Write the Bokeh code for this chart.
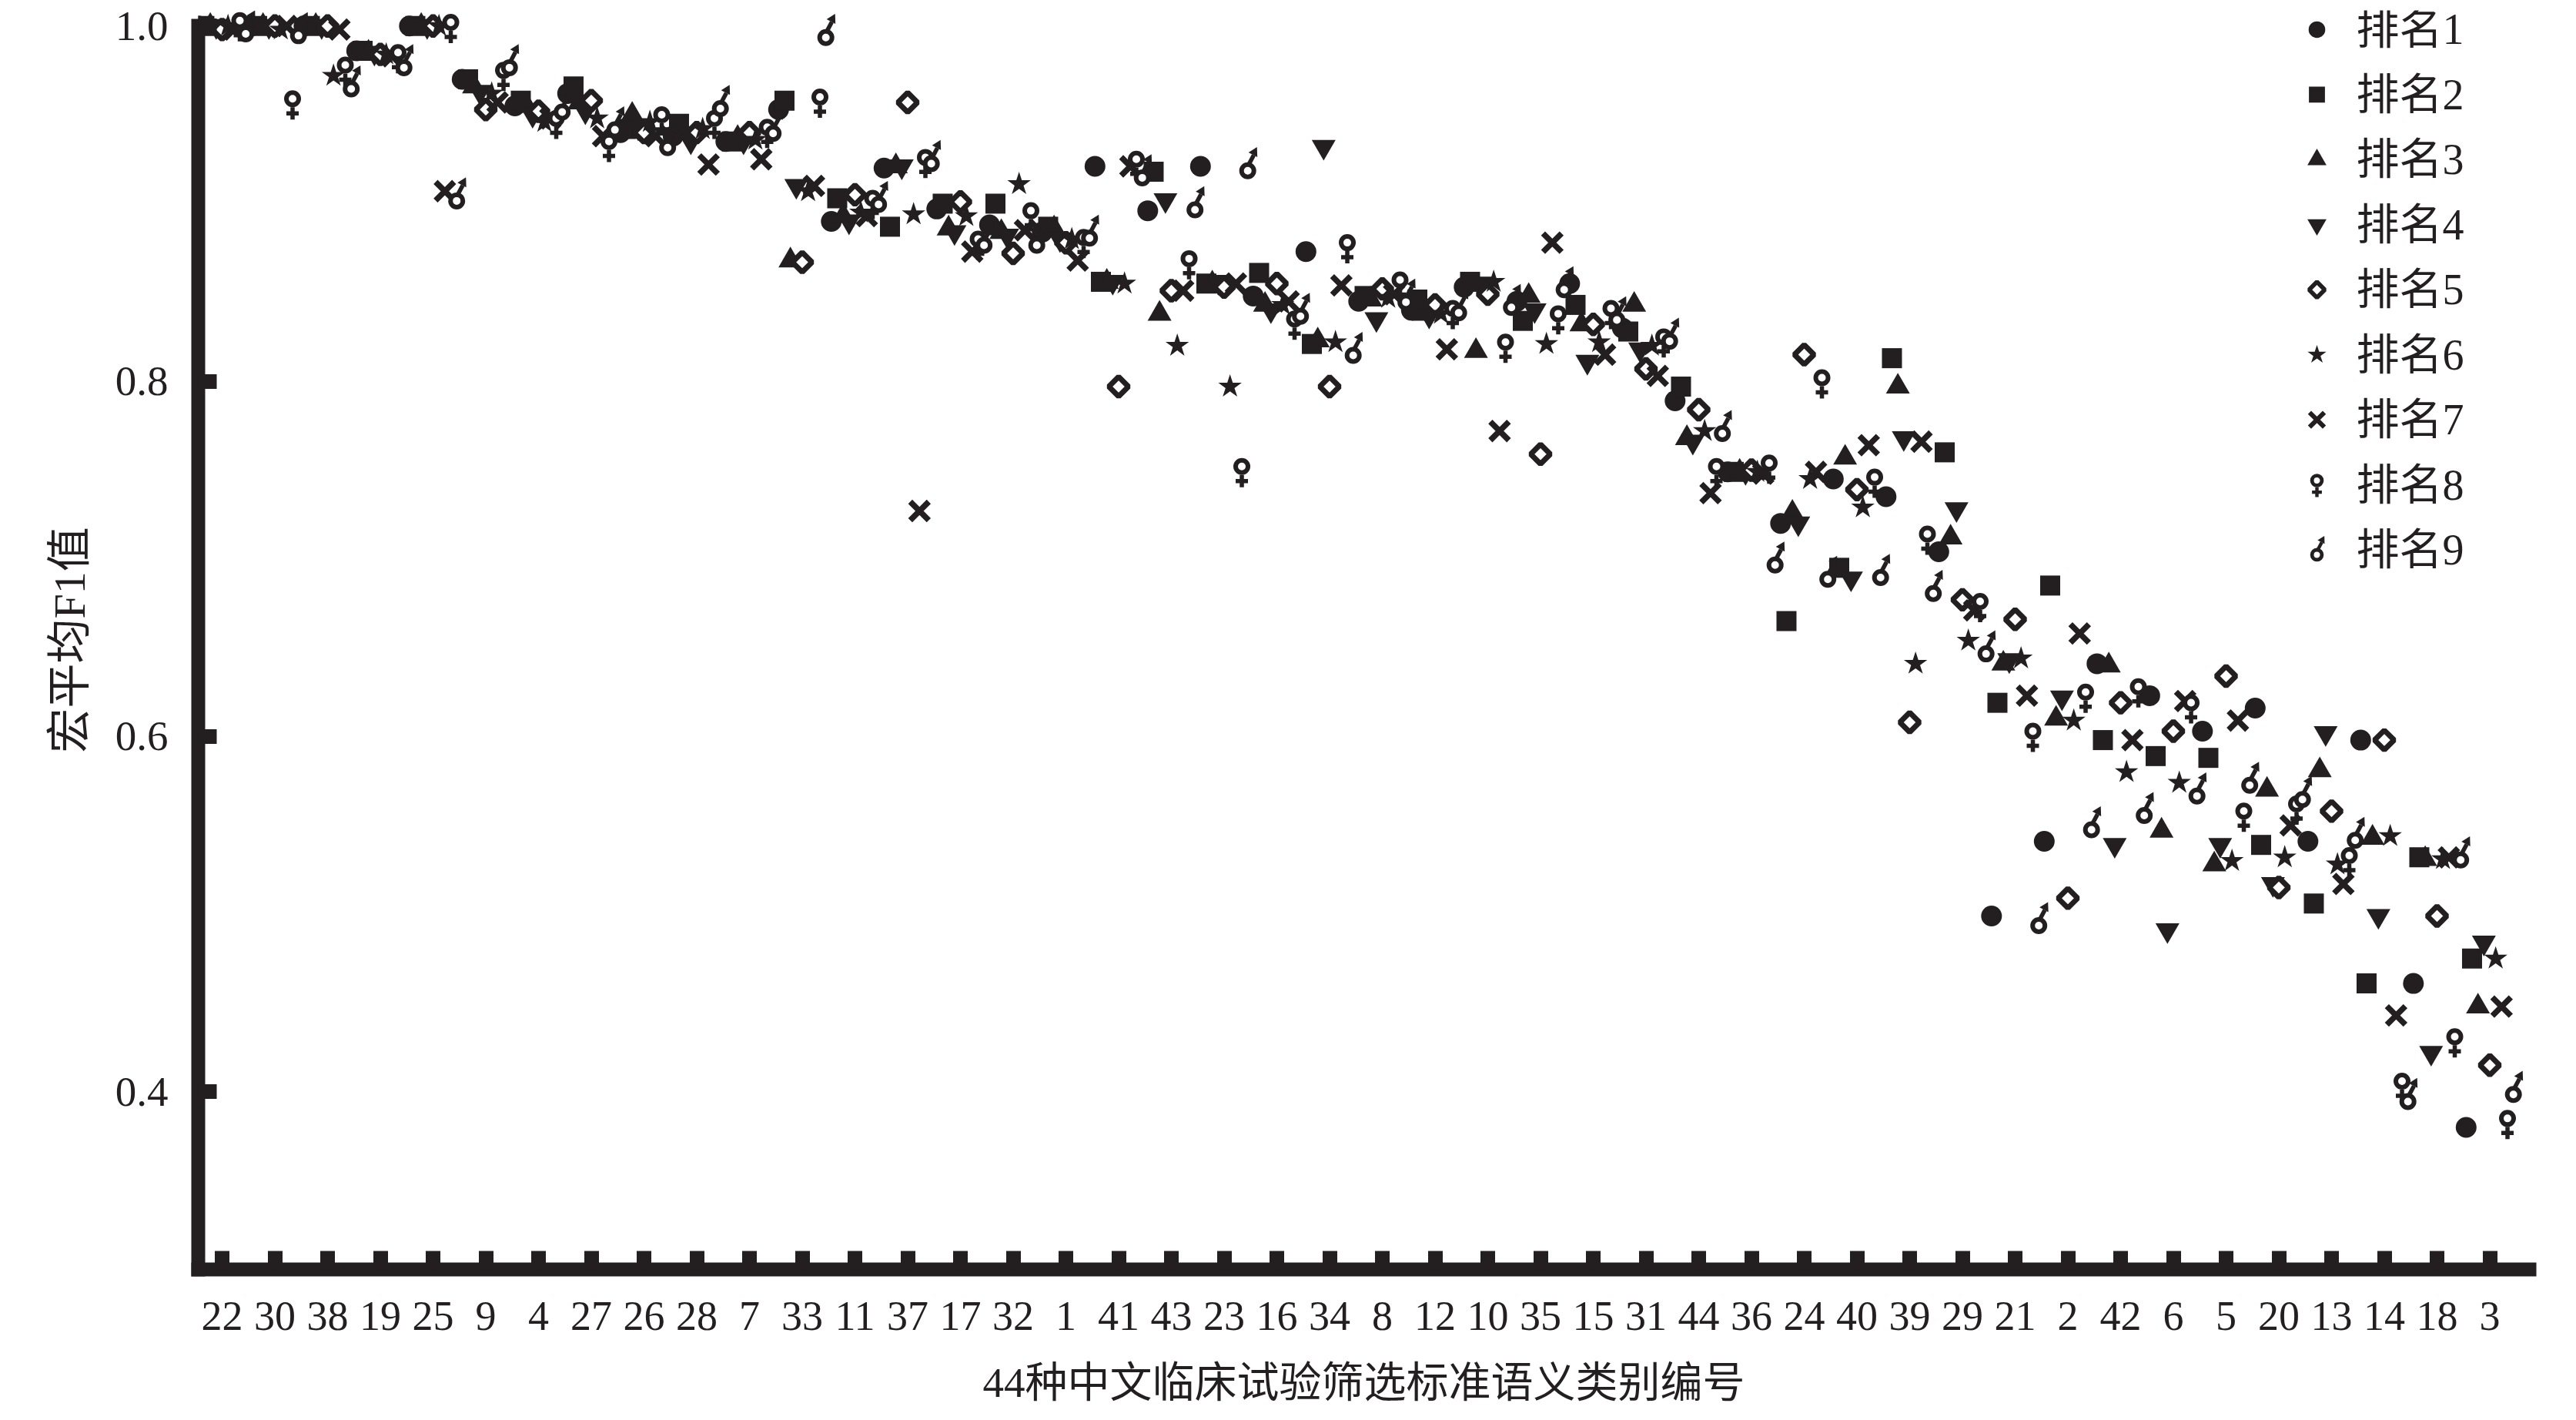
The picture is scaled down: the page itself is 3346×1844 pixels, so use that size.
import math
from bokeh.plotting import figure
from bokeh.models import FixedTicker, Range1d
from bokeh.embed import file_html
from bokeh.resources import INLINE
from bokeh.core.properties import value

# ---------------- data ----------------
categories = ["22", "30", "38", "19", "25", "9", "4", "27", "26", "28", "7", "33", "11", "37",
              "17", "32", "1", "41", "43", "23", "16", "34", "8", "12", "10", "35", "15", "31",
              "44", "36", "24", "40", "39", "29", "21", "2", "42", "6", "5", "20", "13", "14",
              "18", "3"]

rank1 = [1.0, 1.0, 1.0, 0.986, 1.0, 0.970, 0.955, 0.962, 0.940, 0.938, 0.935, 0.953, 0.890, 0.920,
         0.897, 0.888, 0.884, 0.921, 0.896, 0.921, 0.848, 0.873, 0.845, 0.840, 0.853, 0.845, 0.855,
         0.830, 0.789, 0.749, 0.720, 0.745, 0.735, 0.704, 0.499, 0.541, 0.641, 0.623, 0.603, 0.616,
         0.541, 0.598, 0.461, 0.380]
rank2 = [1.0, 1.0, 1.0, 0.986, 1.0, 0.970, 0.958, 0.966, 0.942, 0.945, 0.935, 0.958, 0.903, 0.887,
         0.900, 0.900, 0.887, 0.856, 0.918, 0.855, 0.861, 0.821, 0.848, 0.846, 0.856, 0.834, 0.843,
         0.828, 0.797, 0.749, 0.665, 0.695, 0.813, 0.760, 0.619, 0.685, 0.598, 0.589, 0.588, 0.539,
         0.506, 0.461, 0.532, 0.475]
rank3 = [1.0, 1.0, 1.0, 0.985, 1.0, 0.966, 0.955, 0.957, 0.950, 0.940, 0.937, 0.868, 0.893, 0.921,
         0.886, 0.884, 0.886, 0.856, 0.838, 0.855, 0.843, 0.823, 0.846, 0.838, 0.817, 0.848, 0.832,
         0.843, 0.768, 0.749, 0.726, 0.757, 0.797, 0.712, 0.641, 0.610, 0.640, 0.547, 0.528, 0.570,
         0.581, 0.543, 0.531, 0.448]
rank4 = [1.0, 1.0, 1.0, 0.985, 1.0, 0.963, 0.950, 0.952, 0.943, 0.935, 0.935, 0.910, 0.890, 0.921,
         0.884, 0.882, 0.880, 0.856, 0.902, 0.856, 0.840, 0.932, 0.835, 0.837, 0.855, 0.840, 0.811,
         0.818, 0.766, 0.749, 0.720, 0.689, 0.768, 0.728, 0.643, 0.622, 0.539, 0.491, 0.539, 0.517,
         0.602, 0.499, 0.422, 0.484]
rank5 = [0.998, 1.0, 1.0, 0.984, 1.0, 0.953, 0.952, 0.958, 0.940, 0.940, 0.940, 0.867, 0.905, 0.957,
         0.901, 0.872, 0.878, 0.797, 0.851, 0.853, 0.855, 0.797, 0.852, 0.843, 0.849, 0.759, 0.832,
         0.807, 0.784, 0.750, 0.815, 0.739, 0.608, 0.677, 0.666, 0.509, 0.619, 0.603, 0.634, 0.515,
         0.558, 0.598, 0.499, 0.415]
rank6 = [1.0, 0.998, 0.972, 0.984, 1.0, 0.962, 0.946, 0.948, 0.946, 0.942, 0.936, 0.907, 0.895, 0.894,
         0.893, 0.911, 0.880, 0.855, 0.820, 0.797, 0.843, 0.822, 0.847, 0.838, 0.856, 0.821, 0.822,
         0.820, 0.772, 0.749, 0.745, 0.729, 0.641, 0.654, 0.644, 0.609, 0.580, 0.574, 0.530, 0.532,
         0.528, 0.544, 0.531, 0.475]
rank7 = [0.998, 1.0, 0.998, 0.983, 0.907, 0.957, 0.948, 0.938, 0.938, 0.922, 0.925, 0.910, 0.893, 0.727,
         0.873, 0.885, 0.868, 0.921, 0.851, 0.855, 0.845, 0.854, 0.849, 0.818, 0.772, 0.878, 0.815,
         0.803, 0.737, 0.748, 0.749, 0.764, 0.766, 0.671, 0.623, 0.658, 0.598, 0.620, 0.609, 0.550,
         0.517, 0.443, 0.532, 0.448]
rank8 = [1.0, 0.956, 0.975, 0.982, 0.999, 0.972, 0.945, 0.932, 0.947, 0.945, 0.940, 0.957, 0.900, 0.923,
         0.877, 0.893, 0.878, 0.922, 0.866, 0.749, 0.832, 0.875, 0.854, 0.838, 0.819, 0.835, 0.838,
         0.822, 0.749, 0.751, 0.799, 0.743, 0.711, 0.673, 0.600, 0.622, 0.625, 0.616, 0.555, 0.559,
         0.530, 0.403, 0.428, 0.382]
rank9 = [0.999, 0.998, 0.968, 0.980, 0.905, 0.980, 0.955, 0.945, 0.935, 0.957, 0.943, 0.997, 0.903, 0.926,
         0.880, 0.880, 0.884, 0.918, 0.900, 0.922, 0.840, 0.818, 0.848, 0.842, 0.845, 0.855, 0.838,
         0.826, 0.774, 0.700, 0.692, 0.693, 0.684, 0.650, 0.497, 0.551, 0.559, 0.570, 0.576, 0.568,
         0.545, 0.398, 0.534, 0.402]

series = [rank1, rank2, rank3, rank4, rank5, rank6, rank7, rank8, rank9]
series_names = ["排名1", "排名2", "排名3", "排名4", "排名5", "排名6", "排名7", "排名8", "排名9"]
y_ticks = [0.4, 0.6, 0.8, 1.0]
x_title = "44种中文临床试验筛选标准语义类别编号"
y_title = "宏平均F1值"

# ---------------- layout / style ----------------
INK = "#231f20"
W, H = 3330, 1828
FRAME_L, FRAME_R, FRAME_T, FRAME_B = 257, 3285, 13, 1651
PX_PER_X = 68.5
PX_PER_Y = 2311.0
FIRST_CAT_PX = 31          # first category centre, px right of frame edge
Y_LO = 0.3
Y_HI = Y_LO + (FRAME_B - FRAME_T) / PX_PER_Y
X_LO = -FIRST_CAT_PX / PX_PER_X
X_HI = X_LO + (FRAME_R - FRAME_L) / PX_PER_X
DX = 1.0 / PX_PER_X
DY = 1.0 / PX_PER_Y
SPREAD = 0.112             # horizontal step between ranks inside a category
SERIF = "Liberation Serif, Noto Sans CJK SC"

p = figure(width=W, height=H, output_backend="svg", toolbar_location=None,
           x_range=Range1d(X_LO, X_HI), y_range=Range1d(Y_LO, Y_HI),
           min_border_left=FRAME_L, min_border_right=W - FRAME_R,
           min_border_top=FRAME_T, min_border_bottom=H - FRAME_B)
p.outline_line_color = None
p.grid.visible = False
p.background_fill_color = "white"
p.border_fill_color = "white"


def draw_rank(r, xs, ys, s=1.0):
    if r == 1:
        p.scatter(xs, ys, marker="circle", size=27 * s, fill_color=INK, line_color=None)
    elif r == 2:
        p.scatter(xs, ys, marker="square", size=26 * s, fill_color=INK, line_color=None)
    elif r == 3:
        p.scatter(xs, ys, marker="triangle", size=31 * s, fill_color=INK, line_color=None)
    elif r == 4:
        p.scatter(xs, ys, marker="inverted_triangle", size=31 * s, fill_color=INK, line_color=None)
    elif r == 5:
        p.scatter(xs, ys, marker="square", angle=math.pi / 4, size=18 * s, fill_color="white",
                  line_color=INK, line_width=7 * s)
    elif r == 6:
        p.scatter(xs, ys, marker="star", size=32 * s, fill_color=INK, line_color=None)
    elif r == 7:
        p.scatter(xs, ys, marker="x", size=34 * s, line_color=INK, line_width=7.5 * s)
    elif r == 8:
        p.scatter(xs, [y - 12 * DY * s for y in ys], marker="cross", size=16 * s,
                  line_color=INK, line_width=5.5 * s)
        p.scatter(xs, [y + 7 * DY * s for y in ys], marker="circle", size=16 * s,
                  fill_color="white", line_color=INK, line_width=6 * s)
    elif r == 9:
        p.scatter([x + 4.5 * DX * s for x in xs], [y + 6 * DY * s for y in ys], marker="dash",
                  angle=1.08, size=14 * s, line_color=INK, line_width=5.5 * s)
        p.scatter([x + 8.5 * DX * s for x in xs], [y + 16 * DY * s for y in ys], marker="triangle",
                  angle=-0.49, size=13 * s, fill_color=INK, line_color=None)
        p.scatter(xs, [y - 8 * DY * s for y in ys], marker="circle", size=16 * s,
                  fill_color="white", line_color=INK, line_width=6 * s)


for k, vals in enumerate(series):
    r = k + 1
    xs = [i + (r - 5) * SPREAD for i in range(len(categories))]
    draw_rank(r, xs, vals)

# legend (top right, drawn in plot space)
LEG_MARK_PX = 3009 - FRAME_L      # px from frame left
LEG_TEXT_PX = 3060 - FRAME_L
LEG_TOP_PX = 25                   # px from frame top to first row centre
LEG_STEP_PX = 84.6
for k, name in enumerate(series_names):
    ly = Y_HI - (LEG_TOP_PX + k * LEG_STEP_PX) * DY
    lx = X_LO + LEG_MARK_PX * DX
    draw_rank(k + 1, [lx], [ly], s=0.8)
    p.text(x=[X_LO + LEG_TEXT_PX * DX], y=[ly], text=[name], text_font=value(SERIF),
           text_font_size="56px", text_baseline="middle", text_align="left", text_color=INK)

# axes
xa = p.xaxis[0]
xa.ticker = FixedTicker(ticks=list(range(len(categories))))
xa.major_label_overrides = {i: c for i, c in enumerate(categories)}
xa.minor_tick_line_color = None
xa.major_tick_in = 24
xa.major_tick_out = 0
xa.major_tick_line_width = 19
xa.major_tick_line_color = INK
xa.axis_line_width = 18
xa.axis_line_cap = "square"
xa.axis_line_color = INK
xa.major_label_text_font = "Liberation Serif"
xa.major_label_text_font_size = "54px"
xa.major_label_text_color = INK
xa.major_label_standoff = 42
xa.axis_label = x_title
xa.axis_label_text_font = SERIF
xa.axis_label_text_font_size = "55px"
xa.axis_label_text_font_style = "normal"
xa.axis_label_text_color = INK
xa.axis_label_standoff = 35

ya = p.yaxis[0]
ya.ticker = FixedTicker(ticks=y_ticks)
ya.major_label_overrides = {t: f"{t:.1f}" for t in y_ticks}
ya.bounds = (Y_LO, 1.0)
ya.minor_tick_line_color = None
ya.major_tick_in = 24
ya.major_tick_out = 0
ya.major_tick_line_width = 19
ya.major_tick_line_color = INK
ya.axis_line_width = 18
ya.axis_line_cap = "square"
ya.axis_line_color = INK
ya.major_label_text_font = "Liberation Serif"
ya.major_label_text_font_size = "55px"
ya.major_label_text_color = INK
ya.major_label_standoff = 39
ya.axis_label = y_title
ya.axis_label_text_font = SERIF
ya.axis_label_text_font_size = "58px"
ya.axis_label_text_font_style = "normal"
ya.axis_label_text_color = INK
ya.axis_label_standoff = 24

open("out.html", "w").write(file_html(p, INLINE))
